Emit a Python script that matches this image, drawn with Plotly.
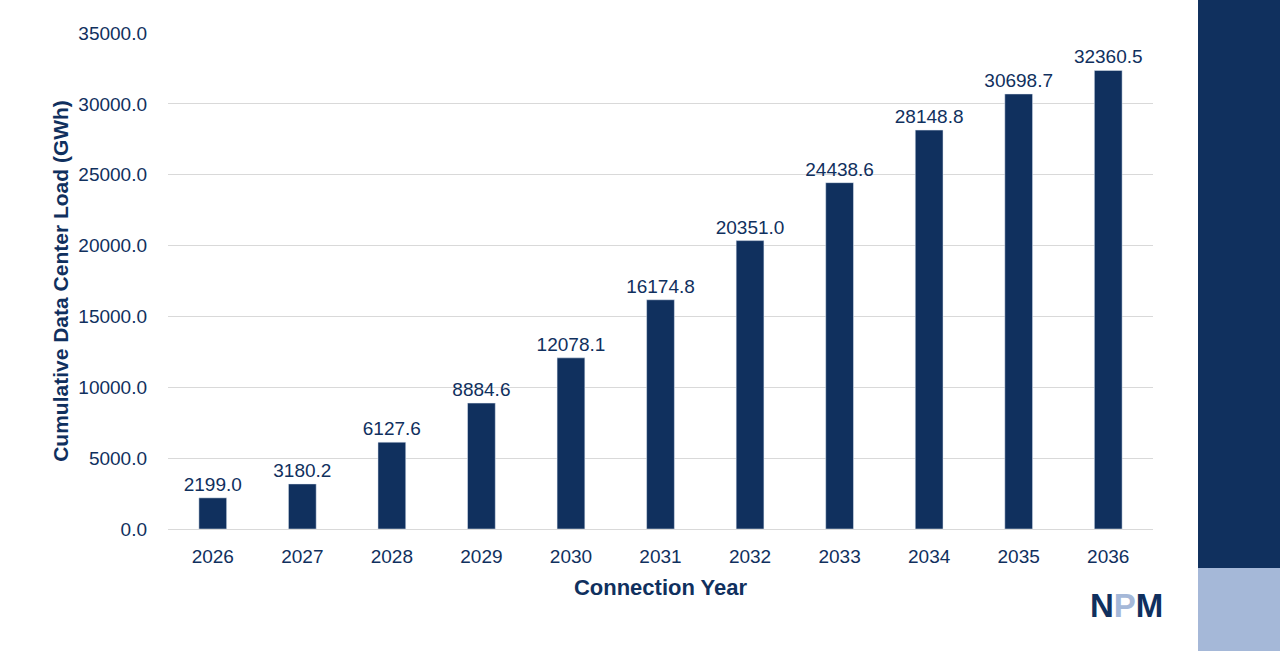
import plotly.graph_objects as go

NAVY = "#10305e"
LIGHT = "#a5b8d8"

years = ["2026", "2027", "2028", "2029", "2030", "2031", "2032", "2033", "2034", "2035", "2036"]
load_gwh = [2199.0, 3180.2, 6127.6, 8884.6, 12078.1, 16174.8, 20351.0, 24438.6, 28148.8, 30698.7, 32360.5]
y_ticks = [0, 5000, 10000, 15000, 20000, 25000, 30000, 35000]

fig = go.Figure()
fig.add_trace(
    go.Bar(
        x=years,
        y=load_gwh,
        width=0.31,
        marker={"color": NAVY},
        text=[f"{v:.1f}" for v in load_gwh],
        textposition="outside",
        constraintext="none",
        textfont={"size": 19, "color": NAVY},
        cliponaxis=False,
    )
)

# right-hand brand strip
fig.add_shape(type="rect", xref="paper", yref="paper",
              x0=1.0457, x1=1.15, y0=-0.0786, y1=1.1,
              fillcolor=NAVY, line_width=0, layer="below")
fig.add_shape(type="rect", xref="paper", yref="paper",
              x0=1.0457, x1=1.15, y0=-0.3, y1=-0.0786,
              fillcolor=LIGHT, line_width=0, layer="below")

fig.add_annotation(
    xref="paper", yref="paper", x=0.9736, y=-0.155,
    xanchor="center", yanchor="middle",
    text=f"<b>N<span style='color:{LIGHT}'>P</span>M</b>",
    showarrow=False,
    font={"family": "Liberation Sans Narrow, Arial Narrow, sans-serif", "size": 33, "color": NAVY},
)

fig.update_layout(
    width=1280,
    height=651,
    paper_bgcolor="white",
    plot_bgcolor="white",
    showlegend=False,
    margin={"l": 168, "r": 127, "t": 33, "b": 122},
    font={"family": "Liberation Sans, Arial, sans-serif", "color": NAVY},
    bargap=0.69,
)
fig.update_xaxes(
    title={"text": "<b>Connection Year</b>", "font": {"size": 22, "color": NAVY}, "standoff": 13},
    tickfont={"size": 19, "color": NAVY},
    showline=True,
    linecolor="#d9d9d9",
    ticks="",
    ticklabelstandoff=10,
)
fig.update_yaxes(
    title={"text": "<b>Cumulative Data Center Load (GWh)</b>", "font": {"size": 21, "color": NAVY}, "standoff": 3},
    range=[0, 35000],
    tickvals=y_ticks,
    ticktext=[f"{t:.1f}" for t in y_ticks],
    tickfont={"size": 19, "color": NAVY},
    gridcolor="#d9d9d9",
    zeroline=False,
    ticklabelstandoff=20,
)

fig.write_html(
    "out.html",
    config={"displayModeBar": False},
    post_script="document.body.style.margin='0';window.dispatchEvent(new Event('resize'));",
)
